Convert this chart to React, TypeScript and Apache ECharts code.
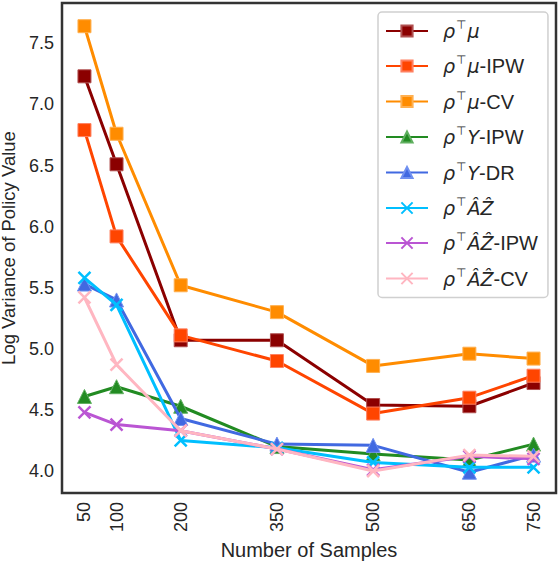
import React, { useEffect, useRef } from "react";
import * as echarts from "echarts";

const sampleSizes = [50, 100, 200, 350, 500, 650, 750];
const yTicks = [4.0, 4.5, 5.0, 5.5, 6.0, 6.5, 7.0, 7.5];

const rhoMu = [7.23, 6.51, 5.07, 5.07, 4.54, 4.53, 4.72];
const rhoMuIPW = [6.79, 5.92, 5.11, 4.9, 4.47, 4.6, 4.78];
const rhoMuCV = [7.64, 6.76, 5.52, 5.3, 4.86, 4.96, 4.92];
const rhoYIPW = [4.61, 4.69, 4.53, 4.2, 4.14, 4.09, 4.22];
const rhoYDR = [5.53, 5.4, 4.43, 4.22, 4.21, 3.99, 4.13];
const rhoAZ = [5.58, 5.36, 4.25, 4.19, 4.07, 4.03, 4.03];
const rhoAZIPW = [4.48, 4.38, 4.33, 4.18, 4.01, 4.12, 4.1];
const rhoAZCV = [5.42, 4.87, 4.33, 4.18, 4.0, 4.13, 4.12];

const seriesNames = [
  "ρ⊤μ",
  "ρ⊤μ-IPW",
  "ρ⊤μ-CV",
  "ρ⊤Y-IPW",
  "ρ⊤Y-DR",
  "ρ⊤ÂẐ",
  "ρ⊤ÂẐ-IPW",
  "ρ⊤ÂẐ-CV",
];
const seriesValues = [rhoMu, rhoMuIPW, rhoMuCV, rhoYIPW, rhoYDR, rhoAZ, rhoAZIPW, rhoAZCV];
const seriesColors = [
  "#8B0000",
  "#FF4500",
  "#FF8C00",
  "#228B22",
  "#4169E1",
  "#00BFFF",
  "#BA55D3",
  "#FFB6C1",
];
const seriesEdge = [
  "#B05050",
  "#FF8060",
  "#FFB050",
  "#60B060",
  "#7090F0",
  "#00BFFF",
  "#BA55D3",
  "#FFB6C1",
];
const seriesMarkers = ["square", "square", "square", "triangle", "triangle", "x", "x", "x"];

const CROSS = "path://M0,0L10,10M10,0L0,10";

function legendLabel(name: string): string {
  const rest = name.slice(2);
  const dash = rest.indexOf("-");
  const core = dash >= 0 ? rest.slice(0, dash) : rest;
  const suffix = dash >= 0 ? rest.slice(dash) : "";
  return `{r|ρ}{s|⊤}{i|${core}}` + (suffix ? `{n|${suffix}}` : "");
}

export default function App() {
  const ref = useRef<HTMLDivElement>(null);
  useEffect(() => {
    if (!ref.current) return;
    const chart = echarts.init(ref.current, null, { renderer: "svg" });
    const textColor = "#262626";
    const series = seriesNames.map((name, k) => {
      const m = seriesMarkers[k];
      const isX = m === "x";
      return {
        name,
        type: "line",
        data: sampleSizes.map((x, i) => [x, seriesValues[k][i]]),
        symbol: isX ? CROSS : m === "square" ? "rect" : "triangle",
        symbolSize: isX ? 12 : m === "square" ? 13 : 14,
        showSymbol: true,
        lineStyle: { color: seriesColors[k], width: 3 },
        itemStyle: {
          color: seriesColors[k],
          borderColor: isX ? seriesColors[k] : seriesEdge[k],
          borderWidth: isX ? 2.5 : 1,
        },
        emphasis: { disabled: true },
        z: 2 + k,
      };
    });
    const mathItalic = {
      fontFamily: "DejaVu Sans",
      fontStyle: "italic",
      fontSize: 19,
      lineHeight: 24,
      color: textColor,
    };
    chart.setOption({
      animation: false,
      backgroundColor: "#ffffff",
      textStyle: { fontFamily: "Liberation Sans, Arial, sans-serif" },
      grid: {
        left: 62,
        top: 3,
        right: 4,
        bottom: 69,
        show: true,
        borderColor: "#333333",
        borderWidth: 2.5,
        backgroundColor: "transparent",
        outerBoundsMode: "none",
        containLabel: false,
        z: 10,
      },
      xAxis: {
        type: "value",
        min: 15,
        max: 785,
        name: "Number of Samples",
        nameLocation: "middle",
        nameGap: 47,
        nameTextStyle: { fontSize: 20, color: textColor, fontFamily: "Liberation Sans" },
        axisLine: { show: false },
        axisTick: { show: false },
        splitLine: { show: false },
        axisLabel: {
          customValues: sampleSizes,
          rotate: 90,
          fontSize: 18,
          color: textColor,
          margin: 9,
          fontFamily: "Liberation Sans",
        },
      },
      yAxis: {
        type: "value",
        min: 3.82,
        max: 7.83,
        name: "Log Variance of Policy Value",
        nameLocation: "middle",
        nameGap: 38,
        nameTextStyle: { fontSize: 18.5, color: textColor, fontFamily: "Liberation Sans" },
        axisLine: { show: false },
        axisTick: { show: false },
        splitLine: { show: false },
        axisLabel: {
          customValues: yTicks,
          formatter: (v: number) => v.toFixed(1),
          fontSize: 18,
          color: textColor,
          margin: 8,
          fontFamily: "Liberation Sans",
        },
      },
      legend: {
        orient: "vertical",
        left: 378,
        top: 12,
        padding: [7, 10, 9, 7],
        itemWidth: 42,
        itemHeight: 14,
        itemGap: 13.5,
        backgroundColor: "#ffffff",
        borderColor: "#d0d0d0",
        borderWidth: 1.5,
        borderRadius: 4,
        data: seriesNames,
        formatter: legendLabel,
        textStyle: {
          color: textColor,
          rich: {
            r: { ...mathItalic, padding: [0, 0, 0, 10] },
            i: { ...mathItalic },
            s: {
              fontFamily: "DejaVu Sans",
              fontSize: 12,
              lineHeight: 15,
              verticalAlign: "top",
              color: textColor,
              padding: [0, 1, 0, 1],
            },
            n: {
              fontFamily: "Liberation Sans",
              fontSize: 20,
              lineHeight: 24,
              color: textColor,
            },
          },
        },
      },
      series,
    });
    return () => chart.dispose();
  }, []);
  return (
    <div
      ref={ref}
      style={{ position: "fixed", left: 0, top: 0, width: 560, height: 562, background: "#fff" }}
    />
  );
}
